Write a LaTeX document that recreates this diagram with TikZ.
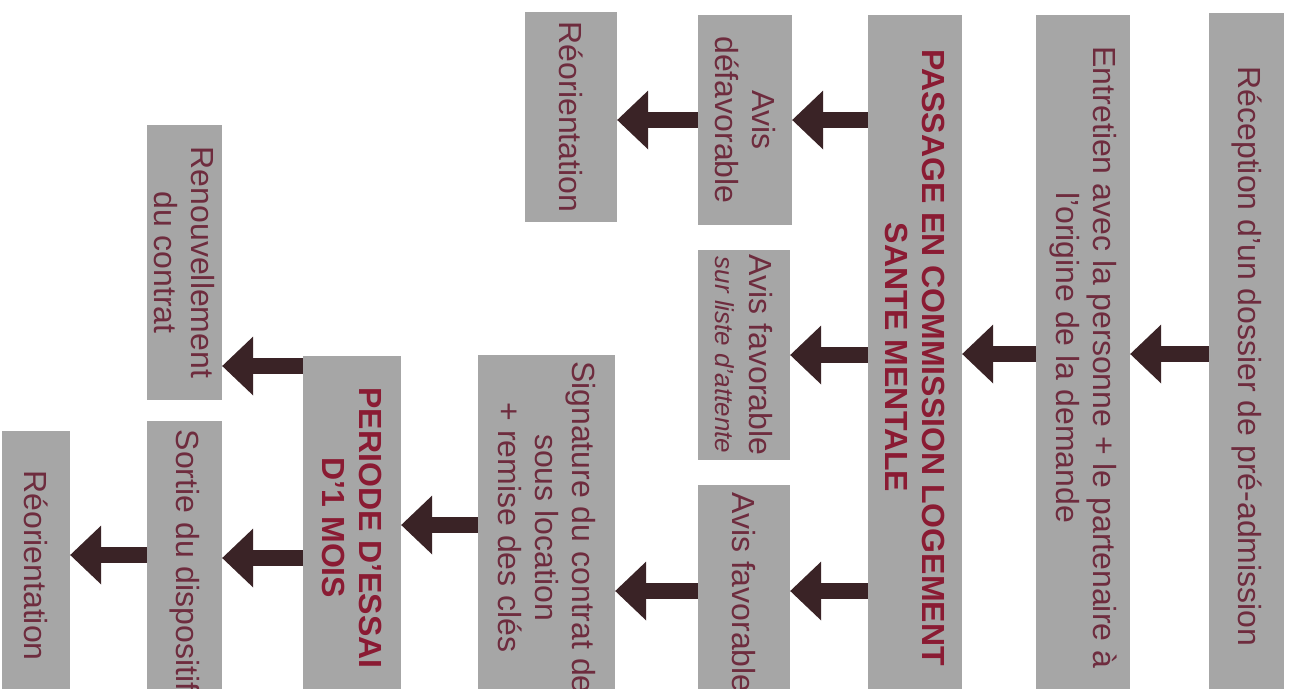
\documentclass[tikz,border=0pt]{standalone}
\usepackage{fontspec}
\setmainfont{Liberation Sans}
\usetikzlibrary{calc}
\definecolor{boxgray}{HTML}{A6A6A6}
\definecolor{txtred}{HTML}{6E2C3E}
\definecolor{boldred}{HTML}{8A1B33}
\definecolor{arrowc}{HTML}{3A2326}
% #1 source node, #2 target node, #3 page y of the arrow
\newcommand\flowarrow[3]{%
  \draw[shaft] (#1.south |- 0,#3) -- ($(#2.north |- 0,#3)+(30,0)$);
  \fill[arrowc] (#2.north |- 0,#3) -- ++(31,-29.5) -- ++(0,59) -- cycle;}
\begin{document}
\begin{tikzpicture}[x=1pt,y=-1pt,
  box/.style={fill=boxgray, rotate=-90, inner sep=0pt, align=center,
    text=txtred, font=\fontsize{32}{37}\selectfont},
  boldbox/.style={box, text=boldred, font=\bfseries\fontsize{32}{37}\selectfont},
  shaft/.style={draw=arrowc, line width=16pt}]
\useasboundingbox[fill=white] (0,0) rectangle (1290,688);
\clip (0,0) rectangle (1290,688);

\node[box, minimum width=687pt, minimum height=75pt] (rec) at (1246.5,356.5)
  {Réception d'un dossier de pré-admission};
\node[box, minimum width=685pt, minimum height=94pt] (ent) at (1083,357.5)
  {Entretien avec la personne + le partenaire à\\l'origine de la demande};
\node[boldbox, minimum width=685pt, minimum height=94pt] (pas) at (915,357.5)
  {PASSAGE EN COMMISSION LOGEMENT\\SANTE MENTALE};
\node[box, minimum width=210pt, minimum height=94pt] (def) at (745,120)
  {Avis\\défavorable};
\node[box, minimum width=210pt, minimum height=92pt] (reoa) at (571,117)
  {Réorientation};
\node[box, minimum width=210pt, minimum height=92pt] (fava) at (744,355)
  {Avis favorable\\[-3pt]{\itshape\fontsize{26}{30}\selectfont sur liste d'attente}};
\node[box, minimum width=215pt, minimum height=92pt] (favb) at (744,592.5)
  {Avis favorable};
\node[box, minimum width=345pt, minimum height=137pt] (sig) at (546.5,527.5)
  {Signature du contrat de\\sous location\\+ remise des clés};
\node[boldbox, minimum width=344pt, minimum height=98pt] (per) at (352,528)
  {PERIODE D'ESSAI\\D'1 MOIS};
\node[box, minimum width=275pt, minimum height=75pt] (ren) at (184.5,262.5)
  {Renouvellement\\du contrat};
\node[box, minimum width=279pt, minimum height=75pt] (sor) at (184.5,560.5)
  {Sortie du dispositif};
\node[box, minimum width=269pt, minimum height=68pt] (reob) at (36,565.5)
  {Réorientation};

\flowarrow{rec}{ent}{354}
\flowarrow{ent}{pas}{354}
\flowarrow{pas}{def}{120}
\flowarrow{pas}{fava}{355}
\flowarrow{pas}{favb}{591}
\flowarrow{def}{reoa}{120}
\flowarrow{favb}{sig}{591}
\flowarrow{sig}{per}{525}
\flowarrow{per}{ren}{366}
\flowarrow{per}{sor}{558}
\flowarrow{sor}{reob}{555}
\end{tikzpicture}
\end{document}
